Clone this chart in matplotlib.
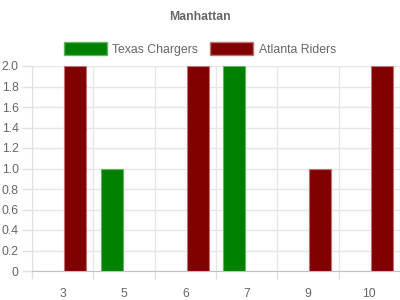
import matplotlib
matplotlib.use("Agg")
import matplotlib.pyplot as plt
from matplotlib.patches import Patch
import numpy as np

categories = ["3", "5", "6", "7", "9", "10"]
texas = [0, 1, 0, 2, 0, 0]
atlanta = [2, 0, 2, 0, 1, 2]
yticks = [0, 0.2, 0.4, 0.6, 0.8, 1.0, 1.2, 1.4, 1.6, 1.8, 2.0]

plt.rcParams['font.family'] = ['Liberation Sans', 'DejaVu Sans']
txt = '#666666'
fs = 8.8

fig = plt.figure(figsize=(4, 3), dpi=100)
ax = fig.add_axes([32/400, 29/300, 368/400, 205/300])

x = np.arange(len(categories))
slot = 0.4
bw = 0.36
tex_h = np.where(np.array(texas) == 0, np.nan, texas)
atl_h = np.where(np.array(atlanta) == 0, np.nan, atlanta)
ax.bar(x - slot/2, tex_h, width=bw, color='#008000', edgecolor=(0.4, 0.7, 0.4), linewidth=0.8, zorder=3)
ax.bar(x + slot/2, atl_h, width=bw, color='#800000', edgecolor=(0.75, 0.45, 0.45), linewidth=0.8, zorder=3)

ax.set_xlim(-0.5, len(categories) - 0.5)
ax.set_ylim(0, 2.0)
ax.set_yticks(yticks)
ax.set_yticklabels(["0" if v == 0 else f"{v:.1f}" for v in yticks], color=txt, fontsize=fs)
ax.set_xticks(x)
ax.set_xticklabels(categories, color=txt, fontsize=fs)
ax.set_xticks(np.arange(-0.5, len(categories)), minor=True)
ax.tick_params(axis='x', which='major', length=0, pad=12)
ax.tick_params(axis='x', which='minor', length=6, color='#e0e0e0', width=1)
ax.tick_params(axis='y', length=7.5, color='#e0e0e0', width=1, pad=2)

ax.grid(axis='y', color='#e6e6e6', linewidth=1, zorder=0)
ax.grid(axis='x', which='minor', color='#e6e6e6', linewidth=1, zorder=0)
for s in ['top', 'right']:
    ax.spines[s].set_visible(False)
ax.spines['left'].set_color('#e0e0e0')
ax.spines['bottom'].set_color('#c0c0c0')
ax.set_axisbelow(True)

fig.text(0.5, 1 - 17/300, "Manhattan", ha='center', va='center', fontsize=fs, fontweight='bold', color=txt)

handles = [Patch(facecolor='#008000', edgecolor=(0.4, 0.7, 0.4), label='Texas Chargers'),
           Patch(facecolor='#800000', edgecolor=(0.75, 0.45, 0.45), label='Atlanta Riders')]
leg = fig.legend(handles=handles, loc='center', bbox_to_anchor=(0.5, 1 - 49/300), ncol=2,
                 frameon=False, fontsize=fs, handlelength=3.5, handleheight=1.3,
                 handletextpad=0.45, columnspacing=1.0, labelcolor=txt)

fig.savefig("out.png", dpi=100)
